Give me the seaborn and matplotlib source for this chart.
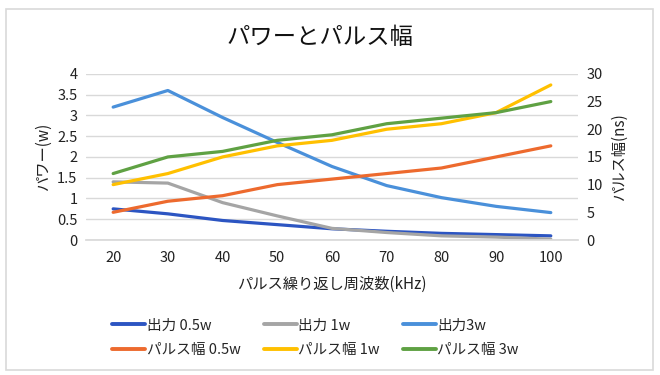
import matplotlib
matplotlib.use('Agg')
import matplotlib.pyplot as plt
from matplotlib.patches import Rectangle
import pandas as pd
import seaborn as sns

# data
freq = [20, 30, 40, 50, 60, 70, 80, 90, 100]
power_05w = [0.75, 0.63, 0.47, 0.37, 0.27, 0.21, 0.16, 0.13, 0.10]
power_1w = [1.40, 1.37, 0.90, 0.58, 0.28, 0.18, 0.10, 0.07, 0.02]
power_3w = [3.20, 3.60, 2.95, 2.35, 1.77, 1.31, 1.02, 0.81, 0.66]
width_05w = [5, 7, 8, 10, 11, 12, 13, 15, 17]
width_1w = [10, 12, 15, 17, 18, 20, 21, 23, 28]
width_3w = [12, 15, 16, 18, 19, 21, 22, 23, 25]

power_names = ['出力 0.5w', '出力 1w', '出力3w']
width_names = ['パルス幅 0.5w', 'パルス幅 1w', 'パルス幅 3w']
power_colors = ['#2C55C2', '#A5A5A5', '#4A90DA']
width_colors = ['#ED6A2E', '#FFC000', '#5FA143']

###############################################################################

def long_frame(names, series):
    rows = []
    for name, vals in zip(names, series):
        for f, v in zip(freq, vals):
            rows.append({'freq': f, 'value': v, 'series': name})
    return pd.DataFrame(rows)

###############################################################################

sns.set_theme(style='white')
plt.rcParams['font.family'] = ['Noto Sans CJK JP', 'DejaVu Sans']

df_power = long_frame(power_names, [power_05w, power_1w, power_3w])
df_width = long_frame(width_names, [width_05w, width_1w, width_3w])

fig = plt.figure(figsize=(6.6, 3.75), dpi=100)
ax = fig.add_axes([0.130, 0.36, 0.746, 0.443])
ax2 = ax.twinx()

sns.lineplot(data=df_power, x='freq', y='value', hue='series',
             palette=power_colors, hue_order=power_names,
             linewidth=2.3, ax=ax, legend=False)
sns.lineplot(data=df_width, x='freq', y='value', hue='series',
             palette=width_colors, hue_order=width_names,
             linewidth=2.3, ax=ax2, legend=False)

ax.set_xlim(15, 105)
ax.set_ylim(0, 4)
ax2.set_ylim(0, 30)
ax.set_xticks(freq)
ax.set_yticks([0, 0.5, 1, 1.5, 2, 2.5, 3, 3.5, 4])
ax.set_yticklabels(['0', '0.5', '1', '1.5', '2', '2.5', '3', '3.5', '4'])
ax2.set_yticks([0, 5, 10, 15, 20, 25, 30])

ax.yaxis.grid(True, color='#D9D9D9', linewidth=1)
ax.set_axisbelow(True)
for a in (ax, ax2):
    for s in a.spines.values():
        s.set_visible(False)
    a.tick_params(length=0, labelsize=10.5, colors='#222222', pad=6)
ax.tick_params(axis='x', pad=8)
ax.spines['bottom'].set_visible(True)
ax.spines['bottom'].set_color('#D9D9D9')
ax.set_zorder(ax2.get_zorder() - 1)
ax.patch.set_visible(False)

ax.set_xlabel('パルス繰り返し周波数(kHz)', fontsize=11, color='#222222', labelpad=8)
ax.set_ylabel('パワー(w)', fontsize=11, color='#222222', labelpad=4)
ax2.set_ylabel('パルス幅(ns)', fontsize=11, color='#222222', labelpad=6)

fig.text(0.485, 0.9, 'パワーとパルス幅', ha='center', va='center',
         fontsize=16.8, color='#111111')

# legend, row-major order in 3 columns
handles = [plt.Line2D([], [], color=c, linewidth=2.8)
           for c in power_colors + width_colors]
labels = power_names + width_names
order = [0, 3, 1, 4, 2, 5]
fig.legend([handles[i] for i in order], [labels[i] for i in order],
           loc='center', bbox_to_anchor=(0.478, 0.099), ncol=3, frameon=False,
           fontsize=10.5, handlelength=2.25, handletextpad=0.1,
           columnspacing=1.6, labelspacing=0.75)

fig.patches.append(Rectangle((0.009, 0.013), 0.981, 0.962,
                             transform=fig.transFigure, fill=False,
                             edgecolor='#D9D9D9', linewidth=1.2))

plt.savefig('out.png', dpi=100)
